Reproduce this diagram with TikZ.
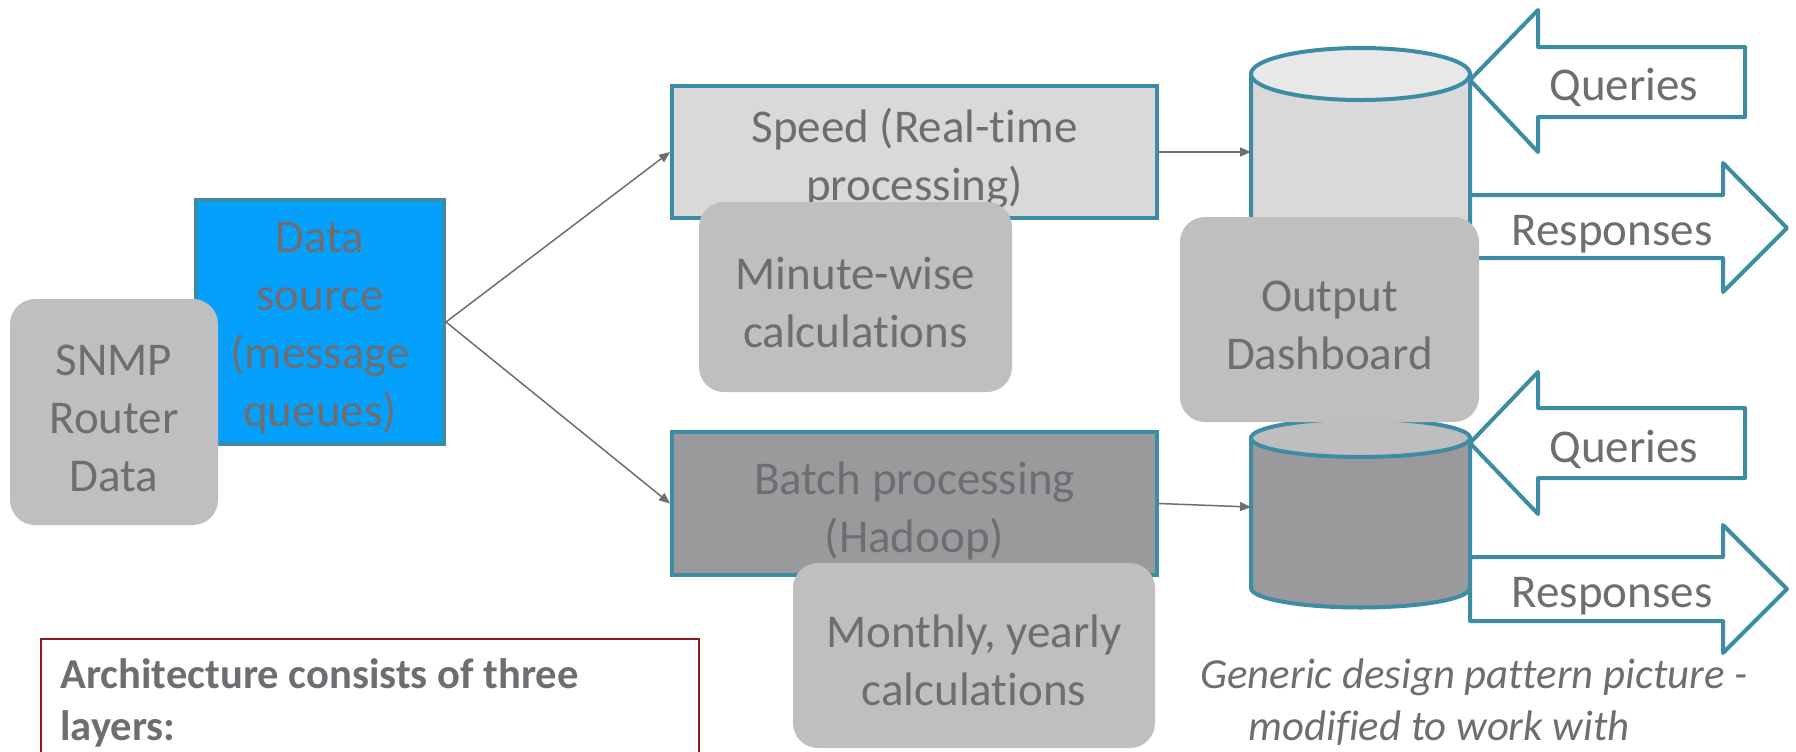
\documentclass[tikz,border=0pt]{standalone}
\usepackage{fontspec}
\setmainfont{Carlito}[Ligatures=NoCommon]
\usetikzlibrary{arrows.meta}
\definecolor{txt}{HTML}{6D6E71}
\definecolor{teal2}{HTML}{3C8DA3}
\definecolor{blue2}{HTML}{059FFC}
\definecolor{light}{HTML}{D9D9D9}
\definecolor{lighttop}{HTML}{E8E8E8}
\definecolor{dark}{HTML}{9A9A9C}
\definecolor{darktop}{HTML}{BEBEC0}
\definecolor{note}{HTML}{BFBFBF}
\definecolor{red2}{HTML}{8C1C1C}
\newcommand\toppad{\rule{0pt}{24pt}}
\newcommand\toppadb{\rule{0pt}{21.5pt}}
\begin{document}
\begin{tikzpicture}[x=0.5pt,y=-0.5pt,
  big/.style={font=\fontsize{23.5pt}{29pt}\selectfont, text=txt, align=center},
  procbox/.style={big, draw=teal2, line width=2pt, inner sep=0pt, rectangle},
  notebox/.style={big, fill=note, rounded corners=12.5pt, inner sep=0pt, rectangle},
  conn/.style={draw=txt, line width=0.75pt, -{Triangle[length=5.5pt,width=4.5pt]}},
  blockarrow/.style={draw=teal2, fill=white, line width=2pt, line join=round},
  cylline/.style={draw=teal2, line width=2pt},
  captxt/.style={font=\fontsize{21.4pt}{26.5pt}\selectfont\itshape, text=txt, inner sep=0pt},
  boldtxt/.style={font=\fontsize{21.3pt}{26pt}\selectfont\bfseries, text=txt, inner sep=0pt}
]
\useasboundingbox (0,0) rectangle (1796,751);
\clip (0,0) rectangle (1796,751);

% note box at bottom left
\draw[draw=red2, line width=1pt] (41,770) -- (41,639) -- (699,639) -- (699,770);
\node[boldtxt, anchor=base west] (arch1) at (60,688) {Architecture consists of three};
\node[boldtxt, anchor=base west] (arch2) at (60,740) {layers:};

% data source and SNMP
\node[procbox, fill=blue2, minimum width=124pt, minimum height=122pt] (ds) at (320,322)
  {\toppadb Data\\source\\(message\\queues)};
\node[notebox, minimum width=104pt, minimum height=113pt] (snmp) at (114,412)
  {\toppadb SNMP\\Router\\Data};

% processing layers
\node[procbox, fill=light, minimum width=242.5pt, minimum height=66pt] (speed) at (914.5,152)
  {\toppad Speed (Real-time\\processing)};
\node[notebox, minimum width=156.5pt, minimum height=95pt] (minute) at (855.5,297)
  {\toppadb Minute-wise\\calculations};
\node[procbox, fill=dark, minimum width=242.5pt, minimum height=71.5pt] (batch) at (914.5,503.5)
  {\toppad Batch processing\\(Hadoop)};
\node[notebox, minimum width=181pt, minimum height=92.5pt] (monthly) at (974,655.5)
  {\toppadb Monthly, yearly\\calculations};

% upper cylinder
\path[cylline, fill=light] (1251,74) -- (1251,390)
  arc[start angle=180, end angle=360, x radius=54.75pt, y radius=13pt] -- (1470,74) -- cycle;
\path[cylline, fill=lighttop] (1360.5,74) ellipse [x radius=54.75pt, y radius=13pt];
% lower cylinder
\path[cylline, fill=dark] (1251,438) -- (1251,588)
  arc[start angle=180, end angle=360, x radius=54.75pt, y radius=9.75pt] -- (1470,438) -- cycle;
\path[cylline, fill=darktop] (1360.5,438) ellipse [x radius=54.75pt, y radius=9.5pt];
\coordinate (cylAin) at (1251,152);
\coordinate (cylBin) at (1251,507);

% block arrows
\path[blockarrow] (1470,80) -- (1538,10) -- (1538,47) -- (1745,47) -- (1745,117)
  -- (1538,117) -- (1538,152) -- cycle;
\path[blockarrow] (1470,195) -- (1723,195) -- (1723,163) -- (1787,228) -- (1723,292)
  -- (1723,258) -- (1470,258) -- cycle;
\path[blockarrow] (1470,443) -- (1538,372) -- (1538,408) -- (1745,408) -- (1745,478)
  -- (1538,478) -- (1538,514) -- cycle;
\path[blockarrow] (1470,557) -- (1723,557) -- (1723,525) -- (1787,589) -- (1723,653)
  -- (1723,621) -- (1470,621) -- cycle;
\node[big, inner sep=0pt] (q1) at (1624,87) {Queries};
\node[big, inner sep=0pt] (r1) at (1612,234) {Responses};
\node[big, inner sep=0pt] (q2) at (1624,449) {Queries};
\node[big, inner sep=0pt] (r2) at (1612,596) {Responses};

% dashboard
\node[notebox, minimum width=149.5pt, minimum height=102.5pt] (dash) at (1329.5,319.5)
  {\toppadb Output\\Dashboard};

% connectors
\draw[conn] (ds.east) -- (speed.west);
\draw[conn] (ds.east) -- (batch.west);
\draw[conn] (speed.east) -- (cylAin);
\draw[conn] (batch.east) -- (cylBin);

% caption
\node[captxt, anchor=base west] (cap1) at (1200,688) {Generic design pattern picture -};
\node[captxt, anchor=base west] (cap2) at (1248,740) {modified to work with};
\end{tikzpicture}
\end{document}
